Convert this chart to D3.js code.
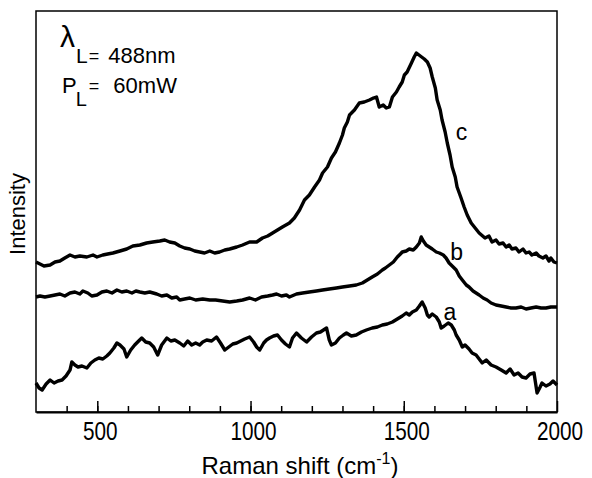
<!DOCTYPE html>
<html>
<head>
<meta charset="utf-8">
<script src="https://cdn.jsdelivr.net/npm/d3@7"></script>
<style>
  body { margin: 0; background: #fff; }
  text { font-family: "Liberation Sans", Arial, sans-serif; fill: #000; }
</style>
</head>
<body>
<svg id="chart" width="592" height="478"></svg>
<script>
// Raman spectra, values: [shift cm-1, intensity a.u.]
const curveA = [[300,29],[310,24],[320,22],[333,28],[346,32],[359,29],[372,31],[385,32],[398,36],[411,42],[417,50],[427,47],[437,45],[450,46],[466,44],[479,49],[492,52],[505,54],[518,53],[531,56],[541,59],[554,64],[564,69],[574,67],[587,63],[596,55],[609,62],[622,67],[635,71],[645,74],[658,70],[671,69],[684,65],[697,57],[710,67],[727,74],[740,71],[753,72],[769,69],[782,66],[795,71],[808,67],[821,69],[834,67],[844,70],[857,72],[873,71],[889,75],[902,69],[916,62],[929,65],[942,68],[955,69],[968,71],[981,73],[997,75],[1010,70],[1020,65],[1030,62],[1043,69],[1052,72],[1062,74],[1075,76],[1088,77],[1101,72],[1114,68],[1127,65],[1137,74],[1150,79],[1166,74],[1183,70],[1199,75],[1215,79],[1228,80],[1238,82],[1248,84],[1257,72],[1264,67],[1277,69],[1290,74],[1303,77],[1313,79],[1329,76],[1345,77],[1362,80],[1378,82],[1397,84],[1414,85],[1430,87],[1446,88],[1463,90],[1479,93],[1495,96],[1508,99],[1518,97],[1528,100],[1541,102],[1551,106],[1560,110],[1570,104],[1577,97],[1583,95],[1593,98],[1606,95],[1616,90],[1622,84],[1632,86],[1645,89],[1655,87],[1665,82],[1671,77],[1681,72],[1691,65],[1700,67],[1713,63],[1723,59],[1736,57],[1746,53],[1756,49],[1769,52],[1785,47],[1801,45],[1818,42],[1834,39],[1847,43],[1860,37],[1873,39],[1886,35],[1899,34],[1912,38],[1925,39],[1935,19],[1945,25],[1951,29],[1964,26],[1977,28],[1987,31],[2000,27]];

const curveB = [[300,115],[313,116],[329,115],[346,116],[362,117],[378,118],[394,116],[411,119],[427,120],[443,118],[453,121],[469,119],[482,116],[499,117],[515,120],[531,121],[548,119],[564,122],[580,120],[596,121],[613,119],[626,121],[639,120],[655,119],[671,120],[694,118],[710,116],[727,117],[743,114],[759,115],[769,112],[785,113],[802,114],[821,112],[844,113],[867,112],[886,112],[909,111],[932,110],[955,111],[974,112],[997,114],[1016,112],[1036,115],[1056,116],[1072,117],[1085,118],[1101,116],[1117,117],[1127,115],[1150,118],[1170,119],[1192,120],[1215,121],[1235,122],[1257,123],[1280,124],[1300,125],[1323,126],[1345,127],[1365,129],[1381,132],[1397,135],[1414,138],[1430,142],[1440,144],[1453,147],[1466,150],[1479,155],[1489,158],[1495,160],[1508,161],[1518,163],[1531,162],[1541,165],[1551,169],[1557,175],[1564,171],[1573,167],[1583,165],[1593,163],[1606,160],[1616,159],[1629,157],[1638,154],[1648,149],[1658,146],[1671,142],[1681,136],[1691,132],[1704,127],[1713,125],[1726,121],[1736,119],[1746,117],[1759,114],[1772,112],[1785,109],[1801,107],[1818,106],[1834,105],[1850,104],[1866,104],[1883,105],[1899,103],[1915,104],[1932,105],[1948,104],[1964,104],[1980,105],[2000,105]];

const curveC = [[300,150],[313,148],[326,146],[346,147],[362,150],[378,151],[394,154],[411,157],[427,155],[443,156],[466,155],[486,157],[499,155],[518,157],[534,158],[551,159],[574,161],[596,163],[616,166],[639,167],[661,169],[681,170],[704,171],[720,172],[736,170],[753,169],[769,166],[785,164],[802,163],[818,161],[834,160],[850,159],[867,161],[883,159],[899,160],[916,162],[932,163],[955,165],[974,167],[997,170],[1020,170],[1039,174],[1056,176],[1072,179],[1088,182],[1104,185],[1127,189],[1143,194],[1160,202],[1176,212],[1192,217],[1209,225],[1225,232],[1235,239],[1251,245],[1264,254],[1277,260],[1290,269],[1300,277],[1306,284],[1316,290],[1323,297],[1339,302],[1355,309],[1371,310],[1388,312],[1401,314],[1411,315],[1420,305],[1433,307],[1443,304],[1453,305],[1463,315],[1476,320],[1485,325],[1495,330],[1502,337],[1511,340],[1525,349],[1534,355],[1541,359],[1554,356],[1567,353],[1577,350],[1586,344],[1593,335],[1603,324],[1609,312],[1619,302],[1625,292],[1635,280],[1642,269],[1651,257],[1658,245],[1668,235],[1674,225],[1687,214],[1697,205],[1707,197],[1720,189],[1733,184],[1746,179],[1765,174],[1778,176],[1788,170],[1801,172],[1811,168],[1824,169],[1834,165],[1844,167],[1853,163],[1866,164],[1876,160],[1889,163],[1899,159],[1909,160],[1918,157],[1932,159],[1941,156],[1954,154],[1964,156],[1974,151],[1980,154],[1990,150],[2000,149]];

const series = [
  {name: 'a', values: curveA, labelAt: [1630, 92]},
  {name: 'b', values: curveB, labelAt: [1652, 152]},
  {name: 'c', values: curveC, labelAt: [1670, 272]}
];

const majorTicks = [500, 1000, 1500, 2000];
const minorTicks = d3.range(400, 2000, 100);

const margin = {top: 11, right: 35, bottom: 66, left: 36};
const width = 592 - margin.left - margin.right;
const height = 478 - margin.top - margin.bottom;

const svg = d3.select('#chart');
const chart = svg.append('g')
    .attr('transform', `translate(${margin.left},${margin.top})`);

const xScale = d3.scaleLinear().domain([300, 2000]).range([0, width]);
const yScale = d3.scaleLinear().domain([0, 401]).range([height, 0]);

// frame
chart.append('rect')
    .attr('width', width)
    .attr('height', height)
    .attr('fill', 'none')
    .attr('stroke', '#000')
    .attr('stroke-width', 1.5);

// minor ticks (inward, no labels)
chart.append('g')
    .attr('transform', `translate(0,${height})`)
    .call(d3.axisBottom(xScale).tickValues(minorTicks).tickSize(-6).tickSizeOuter(0).tickFormat(''))
    .call(g => g.select('.domain').remove())
    .call(g => g.selectAll('line').attr('stroke-width', 1.5));

// major ticks with labels
const xAxisG = chart.append('g')
    .attr('transform', `translate(0,${height})`)
    .call(d3.axisBottom(xScale).tickValues(majorTicks).tickSize(-11).tickSizeOuter(0)
      .tickPadding(10).tickFormat(d3.format('d')));
xAxisG.select('.domain').attr('stroke-width', 2.2);
xAxisG.selectAll('line').attr('stroke-width', 1.5);
xAxisG.selectAll('text')
    .attr('font-family', '"Liberation Sans", Arial, sans-serif')
    .attr('font-size', 25)
    .attr('dx', 3)
    .attr('transform', 'scale(0.83,1)');

// curves
const line = d3.line()
    .x(d => xScale(d[0]))
    .y(d => yScale(d[1]));

chart.selectAll('.spectrum')
    .data(series)
  .join('path')
    .attr('class', 'spectrum')
    .attr('d', d => line(d.values))
    .attr('fill', 'none')
    .attr('stroke', '#000')
    .attr('stroke-width', 3.4)
    .attr('stroke-linejoin', 'round');

chart.selectAll('.curve-label')
    .data(series)
  .join('text')
    .attr('class', 'curve-label')
    .attr('x', d => xScale(d.labelAt[0]))
    .attr('y', d => yScale(d.labelAt[1]))
    .attr('font-size', 23)
    .text(d => d.name);

// axis titles
svg.append('text')
    .attr('x', 300)
    .attr('y', 474)
    .attr('text-anchor', 'middle')
    .attr('font-size', 24)
    .call(t => {
      t.append('tspan').text('Raman shift (cm');
      t.append('tspan').attr('font-size', 16).attr('dy', -10).text('-1');
      t.append('tspan').attr('dy', 10).text(')');
    });

svg.append('text')
    .attr('transform', 'translate(25,214) rotate(-90)')
    .attr('text-anchor', 'middle')
    .attr('font-size', 22)
    .text('Intensity');

// laser annotation (symbol + subscript kept in one text element)
svg.append('text')
    .attr('x', 60).attr('y', 47)
    .attr('font-size', 30)
    .call(t => {
      t.append('tspan').text('λ');
      t.append('tspan').attr('font-size', 21).attr('dy', 16).attr('dx', 1).text('L');
      t.append('tspan').attr('font-size', 18).attr('dx', 1).attr('dy', -1).text('=');
      t.append('tspan').attr('font-size', 22).attr('dx', 9).attr('dy', 1).text('488nm');
    });

svg.append('text')
    .attr('x', 62).attr('y', 93)
    .attr('font-size', 22)
    .call(t => {
      t.append('tspan').text('P');
      t.append('tspan').attr('font-size', 20).attr('dx', -1).attr('dy', 13).text('L');
      t.append('tspan').attr('font-size', 18).attr('dx', 2).attr('dy', -14).text('=');
      t.append('tspan').attr('font-size', 22).attr('dx', 14).attr('dy', 1).text('60mW');
    });
</script>
</body>
</html>
